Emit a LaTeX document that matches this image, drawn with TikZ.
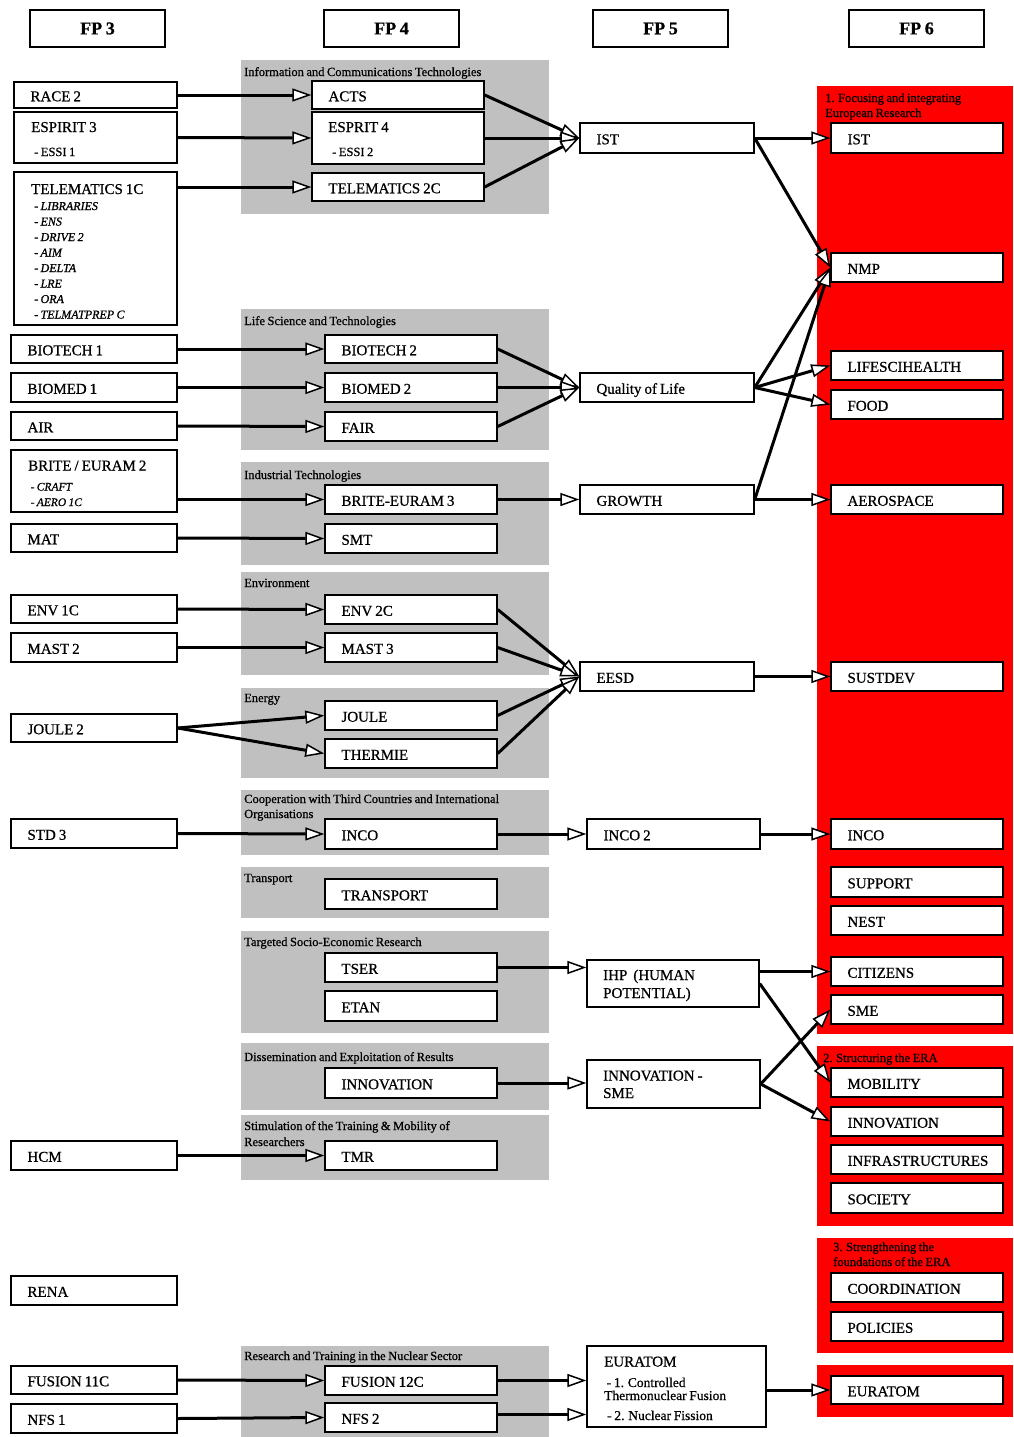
\documentclass[tikz,border=0pt]{standalone}
\usepackage{fontspec}
\setmainfont{Liberation Serif}[RawFeature={embolden=0.7}, WordSpace=0.8]
\usetikzlibrary{arrows.meta}
\definecolor{panelgray}{HTML}{C0C0C0}
\definecolor{erared}{HTML}{FF0000}
\newcommand\fpfs[1]{\fontsize{#1}{#1}\selectfont}
\tikzset{
 box/.style={draw=black, line width=1.4pt, fill=white, inner xsep=16.5pt, inner ysep=0pt,
   text height=12.5pt, text depth=0pt, font=\fpfs{15}},
 hdr/.style={draw=black, line width=1.5pt, fill=white, font=\bfseries\fpfs{18}, inner sep=0pt,
   minimum width=135pt, minimum height=37pt},
 grp/.style={fill=panelgray, draw=none},
 era/.style={fill=erared, draw=none},
 plab/.style={anchor=base west, inner sep=0pt, font=\fpfs{12.5}},
 txt/.style={anchor=base west, inner sep=0pt, font=\fpfs{15}},
 sub/.style={anchor=base west, inner sep=0pt, font=\fpfs{12.5}},
 esub/.style={anchor=base west, inner sep=0pt, font=\fpfs{13.5}},
 itl/.style={anchor=base west, inner sep=0pt, font=\itshape\fpfs{12}},
 itls/.style={anchor=base west, inner sep=0pt, font=\itshape\fpfs{11.5}},
 arr/.style={line width=3pt, -{Triangle[length=19pt, width=13pt, fill=white, line width=1.5pt]}},
}
\newcommand\fpbox[6]{%
 \pgfmathsetmacro\fpw{#4-#2}\pgfmathsetmacro\fph{#5-#3}\pgfmathsetmacro\fptw{#4-#2-33}%
 \node[box, minimum width=\fpw pt, minimum height=\fph pt, text width=\fptw pt] (#1) at ({(#2+#4)/2},{(#3+#5)/2}) {\spaceskip=0pt\relax #6};}
\begin{document}
\begin{tikzpicture}[x=1pt,y=-1pt]
\useasboundingbox (0,0) rectangle (1013,1437);
\fill[white] (0,0) rectangle (1013,1437);

% headers
\node[hdr] (fp3) at (97.5,28.5) {FP 3};
\node[hdr] (fp4) at (391.5,28.5) {FP 4};
\node[hdr] (fp5) at (660.5,28.5) {FP 5};
\node[hdr] (fp6) at (916.5,28.5) {FP 6};

% gray panels (FP4)
\fill[grp] (241,60) rectangle (549,214);
\fill[grp] (241,309) rectangle (549,450);
\fill[grp] (241,462) rectangle (549,565);
\fill[grp] (241,572) rectangle (549,675);
\fill[grp] (241,688) rectangle (549,778);
\fill[grp] (241,790) rectangle (549,855);
\fill[grp] (241,867) rectangle (549,918);
\fill[grp] (241,931) rectangle (549,1033);
\fill[grp] (241,1043) rectangle (549,1110);
\fill[grp] (241,1115) rectangle (549,1180);
\fill[grp] (241,1346) rectangle (549,1437);

\node[plab] (l1) at (244,76) {Information and Communications Technologies};
\node[plab] (l2) at (244,325) {Life Science and Technologies};
\node[plab] (l3) at (244,479) {Industrial Technologies};
\node[plab] (l4) at (244,587) {Environment};
\node[plab] (l5) at (244,702) {Energy};
\node[plab] (l6a) at (244,803) {Cooperation with Third Countries and International};
\node[plab] (l6b) at (244,818) {Organisations};
\node[plab] (l7) at (244,882) {Transport};
\node[plab] (l8) at (244,946) {Targeted Socio-Economic Research};
\node[plab] (l9) at (244,1061) {Dissemination and Exploitation of Results};
\node[plab] (l10a) at (244,1130) {Stimulation of the Training \& Mobility of};
\node[plab] (l10b) at (244,1146) {Researchers};
\node[plab] (l11) at (244,1360) {Research and Training in the Nuclear Sector};

% red panels (FP6)
\fill[era] (817,86) rectangle (1013,1034);
\fill[era] (817,1046) rectangle (1013,1226);
\fill[era] (817,1238) rectangle (1013,1353);
\fill[era] (817,1365) rectangle (1013,1417);
\node[plab] (r1a) at (825,102) {1. Focusing and integrating};
\node[plab] (r1b) at (825,117) {European Research};
\node[plab] (r2) at (823,1062) {2. Structuring the ERA};
\node[plab] (r3a) at (833,1251) {3. Strengthening the};
\node[plab] (r3b) at (833,1266) {foundations of the ERA};

% FP3 column
\fpbox{race}{14}{82}{177}{108}{RACE 2}
\fpbox{esp3}{14}{112}{177}{163}{}
\node[txt] (esp3t) at (31,132) {ESPIRIT 3};
\node[sub] (esp3s) at (34,156) {- ESSI 1};
\fpbox{tel1}{14}{172}{177}{325}{}
\node[txt] (tel1t) at (31,194) {TELEMATICS 1C};
\node[itl] (tl1) at (34,210) {- LIBRARIES};
\node[itl] (tl2) at (34,225.5) {- ENS};
\node[itl] (tl3) at (34,241) {- DRIVE 2};
\node[itl] (tl4) at (34,256.5) {- AIM};
\node[itl] (tl5) at (34,272) {- DELTA};
\node[itl] (tl6) at (34,287.5) {- LRE};
\node[itl] (tl7) at (34,303) {- ORA};
\node[itl] (tl8) at (34,318.5) {- TELMATPREP C};
\fpbox{bio1}{11}{335}{177}{363}{BIOTECH 1}
\fpbox{biomed1}{11}{373}{177}{402}{BIOMED 1}
\fpbox{air}{11}{412}{177}{440}{AIR}
\fpbox{be2}{11}{450}{177}{512}{}
\node[txt] (be2t) at (28,470.5) {BRITE / EURAM 2};
\node[itls] (be2a) at (30.5,490.5) {- CRAFT};
\node[itls] (be2b) at (30.5,506) {- AERO 1C};
\fpbox{mat}{11}{524}{177}{552}{MAT}
\fpbox{env1}{11}{595}{177}{623}{ENV 1C}
\fpbox{mast2}{11}{633}{177}{662}{MAST 2}
\fpbox{joule2}{11}{714}{177}{742}{JOULE 2}
\fpbox{std3}{11}{819}{177}{848}{STD 3}
\fpbox{hcm}{11}{1141}{177}{1170}{HCM}
\fpbox{rena}{11}{1276}{177}{1305}{RENA}
\fpbox{fus11}{11}{1366}{177}{1394}{FUSION 11C}
\fpbox{nfs1}{11}{1404}{177}{1433}{NFS 1}

% FP4 column
\fpbox{acts}{312}{81}{484}{109}{ACTS}
\fpbox{esp4}{312}{112}{484}{164}{}
\node[txt] (esp4t) at (328,132) {ESPRIT 4};
\node[sub] (esp4s) at (332,156) {- ESSI 2};
\fpbox{tel2}{312}{173}{484}{201}{TELEMATICS 2C}
\fpbox{bio2}{325}{335}{497}{363}{BIOTECH 2}
\fpbox{biomed2}{325}{373}{497}{402}{BIOMED 2}
\fpbox{fair}{325}{412}{497}{441}{FAIR}
\fpbox{be3}{325}{485}{497}{514}{BRITE-EURAM 3}
\fpbox{smt}{325}{524}{497}{553}{SMT}
\fpbox{env2}{325}{595}{497}{624}{ENV 2C}
\fpbox{mast3}{325}{633}{497}{662}{MAST 3}
\fpbox{joule}{325}{701}{497}{730}{JOULE}
\fpbox{thermie}{325}{739}{497}{768}{THERMIE}
\fpbox{inco}{325}{819}{497}{849}{INCO}
\fpbox{transport}{325}{879}{497}{909}{TRANSPORT}
\fpbox{tser}{325}{953}{497}{982}{TSER}
\fpbox{etan}{325}{991}{497}{1021}{ETAN}
\fpbox{innov4}{325}{1068}{497}{1098}{INNOVATION}
\fpbox{tmr}{325}{1141}{497}{1170}{TMR}
\fpbox{fus12}{325}{1366}{497}{1395}{FUSION 12C}
\fpbox{nfs2}{325}{1403}{497}{1432}{NFS 2}

% FP5 column
\fpbox{ist5}{580}{123}{754}{153}{IST}
\fpbox{qol}{580}{373}{754}{402}{Quality of Life}
\fpbox{growth}{580}{485}{754}{514}{GROWTH}
\fpbox{eesd}{580}{662}{754}{691}{EESD}
\fpbox{inco2}{587}{819}{760}{849}{INCO 2}
\fpbox{ihp}{587}{960}{759}{1007}{}
\node[txt] (ihpa) at (603,980) {IHP\ \ (HUMAN};
\node[txt] (ihpb) at (603,998) {POTENTIAL)};
\fpbox{isme}{587}{1060}{760}{1108}{}
\node[txt] (ismea) at (603,1080.5) {INNOVATION -};
\node[txt] (ismeb) at (603,1098) {SME};
\fpbox{eur5}{587}{1346}{766}{1427}{}
\node[txt] (eur5t) at (604,1366.5) {EURATOM};
\node[esub] (eur5a) at (606.5,1387) {- 1. Controlled};
\node[esub] (eur5b) at (604,1400) {Thermonuclear Fusion};
\node[esub] (eur5c) at (607,1420) {- 2. Nuclear Fission};

% FP6 column
\fpbox{ist6}{831}{123}{1003}{153}{IST}
\fpbox{nmp}{831}{253}{1003}{282}{NMP}
\fpbox{life}{831}{351}{1003}{380}{LIFESCIHEALTH}
\fpbox{food}{831}{390}{1003}{419}{FOOD}
\fpbox{aero}{831}{485}{1003}{514}{AEROSPACE}
\fpbox{sust}{831}{662}{1003}{691}{SUSTDEV}
\fpbox{inco6}{831}{819}{1003}{849}{INCO}
\fpbox{support}{831}{867}{1003}{897}{SUPPORT}
\fpbox{nest}{831}{906}{1003}{935}{NEST}
\fpbox{cit}{831}{957}{1003}{986}{CITIZENS}
\fpbox{sme}{831}{995}{1003}{1024}{SME}
\fpbox{mob}{831}{1068}{1003}{1097}{MOBILITY}
\fpbox{innov6}{831}{1107}{1003}{1136}{INNOVATION}
\fpbox{infra}{831}{1145}{1003}{1174}{INFRASTRUCTURES}
\fpbox{soc}{831}{1183}{1003}{1213}{SOCIETY}
\fpbox{coord}{831}{1273}{1003}{1302}{COORDINATION}
\fpbox{pol}{831}{1312}{1003}{1341}{POLICIES}
\fpbox{eur6}{831}{1376}{1003}{1404}{EURATOM}

% FP3 -> FP4
\draw[arr] (race.east) -- (acts.west);
\draw[arr] (esp3.east) -- (esp4.west);
\draw[arr] (tel1.east |- tel2.west) -- (tel2.west);
\draw[arr] (bio1.east) -- (bio2.west);
\draw[arr] (biomed1.east) -- (biomed2.west);
\draw[arr] (air.east) -- (fair.west);
\draw[arr] (be2.east |- be3.west) -- (be3.west);
\draw[arr] (mat.east) -- (smt.west);
\draw[arr] (env1.east) -- (env2.west);
\draw[arr] (mast2.east) -- (mast3.west);
\draw[arr] (joule2.east) -- (joule.west);
\draw[arr] (joule2.east) -- (thermie.west);
\draw[arr] (std3.east) -- (inco.west);
\draw[arr] (hcm.east) -- (tmr.west);
\draw[arr] (fus11.east) -- (fus12.west);
\draw[arr] (nfs1.east) -- (nfs2.west);

% FP4 -> FP5
\draw[arr] (acts.east) -- (ist5.west);
\draw[arr] (esp4.east) -- (ist5.west);
\draw[arr] (tel2.east) -- (ist5.west);
\draw[arr] (bio2.east) -- (qol.west);
\draw[arr] (biomed2.east) -- (qol.west);
\draw[arr] (fair.east) -- (qol.west);
\draw[arr] (be3.east) -- (growth.west);
\draw[arr] (env2.east) -- (eesd.west);
\draw[arr] (mast3.east) -- (eesd.west);
\draw[arr] (joule.east) -- (eesd.west);
\draw[arr] (thermie.east) -- (eesd.west);
\draw[arr] (inco.east) -- (inco2.west);
\draw[arr] (tser.east) -- (tser.east -| ihp.west);
\draw[arr] (innov4.east) -- (innov4.east -| isme.west);
\draw[arr] (fus12.east) -- (fus12.east -| eur5.west);
\draw[arr] ([yshift=3pt]nfs2.east) -- ([yshift=3pt]nfs2.east -| eur5.west);

% FP5 -> FP6
\draw[arr] (ist5.east) -- (ist6.west);
\draw[arr] (ist5.east) -- (nmp.west);
\draw[arr] (qol.east) -- (nmp.west);
\draw[arr] (qol.east) -- (life.west);
\draw[arr] (qol.east) -- (food.west);
\draw[arr] (growth.east) -- (nmp.west);
\draw[arr] (growth.east) -- (aero.west);
\draw[arr] (eesd.east) -- (sust.west);
\draw[arr] (inco2.east) -- (inco6.west);
\draw[arr] (ihp.east |- cit.west) -- (cit.west);
\draw[arr] (ihp.east) -- (mob.west);
\draw[arr] (isme.east) -- (sme.west);
\draw[arr] (isme.east) -- (innov6.west);
\draw[arr] (eur5.east |- eur6.west) -- (eur6.west);
\end{tikzpicture}
\end{document}
